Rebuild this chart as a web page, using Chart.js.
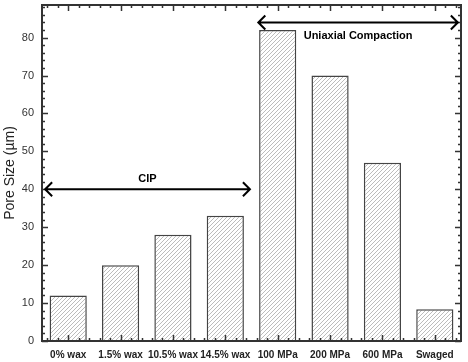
<!DOCTYPE html>
<html>
<head>
<meta charset="utf-8">
<script src="https://cdn.jsdelivr.net/npm/chart.js@4"></script>
<style>
  html, body { margin: 0; padding: 0; background: #fff; }
  #wrap { width: 468px; height: 362px; }
</style>
</head>
<body>
<div id="wrap"><canvas id="myChart"></canvas></div>
<script>
const samples = ["0% wax", "1.5% wax", "10.5% wax", "14.5% wax", "100 MPa", "200 MPa", "600 MPa", "Swaged"];
const poreSize = [12, 20, 28, 33, 82, 70, 47, 8.4];
const yTicks = [0, 10, 20, 30, 40, 50, 60, 70, 80];
const groupNames = ["CIP", "Uniaxial Compaction"];

// arrows across the groups, in axis units
const arrows = [
  { text: groupNames[0], from: -0.44, to: 3.47, y: 40, textDy: -10 },
  { text: groupNames[1], from: 3.63, to: 7.44, y: 84, textDy: 14 }
];

function makeHatch() {
  const c = document.createElement("canvas");
  c.width = 4; c.height = 4;
  const g = c.getContext("2d");
  g.fillStyle = "#fff";
  g.fillRect(0, 0, 4, 4);
  g.strokeStyle = "#b4b4b4";
  g.lineWidth = 0.9;
  g.beginPath();
  g.moveTo(-1, 5); g.lineTo(5, -1);
  g.moveTo(-1, 1); g.lineTo(1, -1);
  g.moveTo(3, 5); g.lineTo(5, 3);
  g.stroke();
  return g.createPattern(c, "repeat");
}

const framePlugin = {
  id: "frame",
  afterDatasetsDraw(chart) {
    const { ctx, chartArea: a, scales } = chart;
    const x = scales.x, y = scales.y;
    ctx.save();
    ctx.strokeStyle = "#333";
    ctx.lineWidth = 2;
    ctx.strokeRect(a.left, a.top, a.right - a.left, a.bottom - a.top);
    ctx.lineWidth = 1.5;
    ctx.beginPath();
    // y ticks, major every 10, minor every 2
    for (let v = 0; v <= y.max; v += 2) {
      const py = Math.round(y.getPixelForValue(v)) + 0.5;
      const len = v % 10 === 0 ? 6 : 3;
      ctx.moveTo(a.left, py); ctx.lineTo(a.left + len, py);
      ctx.moveTo(a.right, py); ctx.lineTo(a.right - len, py);
    }
    // x ticks, major on category, minor every 0.2
    for (let i = -2; i <= samples.length * 5 - 3; i++) {
      const px = Math.round(x.getPixelForValue(i / 5)) + 0.5;
      if (px < a.left + 1 || px > a.right - 1) continue;
      const len = i % 5 === 0 ? 6 : 3;
      ctx.moveTo(px, a.bottom); ctx.lineTo(px, a.bottom - len);
      ctx.moveTo(px, a.top); ctx.lineTo(px, a.top + len);
    }
    ctx.stroke();

    // group arrows
    ctx.strokeStyle = "#000";
    ctx.fillStyle = "#000";
    ctx.lineWidth = 2;
    ctx.font = "bold 11px Arial, 'Liberation Sans', sans-serif";
    ctx.textAlign = "center";
    ctx.textBaseline = "middle";
    arrows.forEach(ar => {
      const x1 = x.getPixelForValue(ar.from);
      const x2 = x.getPixelForValue(ar.to);
      const py = y.getPixelForValue(ar.y);
      ctx.beginPath();
      ctx.moveTo(x1, py); ctx.lineTo(x2, py);
      ctx.moveTo(x1 + 7, py - 7); ctx.lineTo(x1, py); ctx.lineTo(x1 + 7, py + 7);
      ctx.moveTo(x2 - 7, py - 7); ctx.lineTo(x2, py); ctx.lineTo(x2 - 7, py + 7);
      ctx.stroke();
      ctx.fillText(ar.text, (x1 + x2) / 2, py + ar.textDy);
    });
    ctx.restore();
  }
};

new Chart(document.getElementById("myChart"), {
  type: "bar",
  data: {
    labels: samples,
    datasets: [{
      data: poreSize,
      backgroundColor: makeHatch(),
      borderColor: "#444",
      borderWidth: 1.5,
      borderSkipped: "bottom",
      barPercentage: 0.71,
      categoryPercentage: 1
    }]
  },
  options: {
    responsive: true,
    maintainAspectRatio: false,
    animation: false,
    layout: { padding: { top: 5, right: 7, left: 0, bottom: 0 } },
    plugins: { legend: { display: false }, tooltip: { enabled: false } },
    scales: {
      x: {
        grid: { display: false },
        border: { display: false },
        ticks: {
          color: "#222",
          font: { family: "Arial, 'Liberation Sans', sans-serif", size: 10, weight: "bold" },
          padding: 0,
          maxRotation: 0,
          autoSkip: false
        },
        afterFit(s) { s.height = 21; s.paddingLeft = 0; s.paddingRight = 0; }
      },
      y: {
        min: 0,
        max: 88.6,
        grid: { display: false, drawTicks: false },
        border: { display: false },
        afterBuildTicks(s) { s.ticks = yTicks.map(v => ({ value: v })); },
        ticks: {
          color: "#333",
          font: { family: "Arial, 'Liberation Sans', sans-serif", size: 11 },
          padding: 8
        },
        title: {
          display: true,
          text: "Pore Size (µm)",
          color: "#222",
          font: { family: "Arial, 'Liberation Sans', sans-serif", size: 14 },
          padding: { top: 2, bottom: 0 }
        },
        afterFit(s) { s.width = 42; s.paddingTop = 0; s.paddingBottom = 0; }
      }
    }
  },
  plugins: [framePlugin]
});
</script>
</body>
</html>
